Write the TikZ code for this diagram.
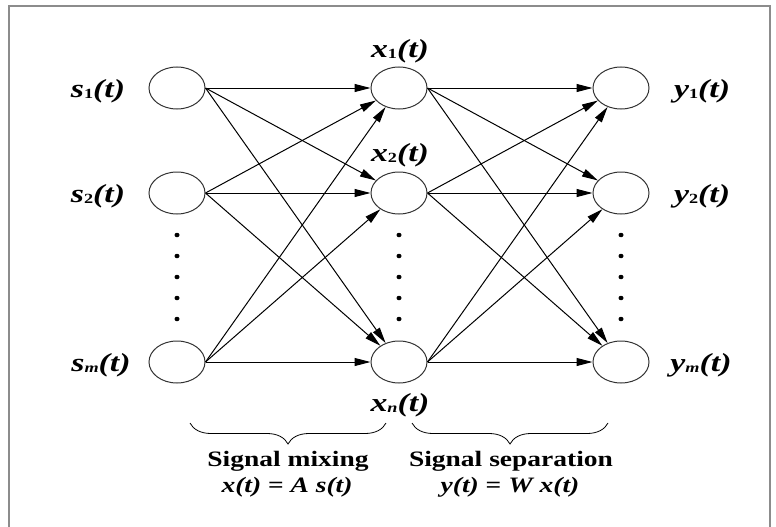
\documentclass[tikz,border=0pt]{standalone}
\usepackage{fontspec}
\setmainfont{Liberation Serif}
\usetikzlibrary{shapes.geometric,arrows.meta,decorations.pathreplacing}
\newcommand\nlbl[2]{\scalebox{1.3}[1]{\fontsize{26}{26}\selectfont\bfseries\itshape #1\raisebox{-0.1ex}{\fontsize{14}{14}\selectfont #2}(t)}}
\newcommand\btxt[1]{\scalebox{1.25}[1]{\fontsize{22}{24}\selectfont\bfseries #1}}
\begin{document}
\begin{tikzpicture}[x=1pt,y=-1pt,
  neuron/.style={draw=black!80, line width=1pt, ellipse, minimum width=56pt, minimum height=42pt, inner sep=0pt},
  conn/.style={line width=1pt, -{Triangle[length=16pt,width=8pt]}},
  dotm/.style={fill, ellipse, minimum width=5pt, minimum height=4.5pt, inner sep=0pt},
  brc/.style={decorate, decoration={brace, mirror, amplitude=21pt}, line width=0.8pt},
  lab/.style={inner sep=0pt}]
\useasboundingbox (0,0) rectangle (776,527);
\draw[black!45, line width=1.6pt] (9,530) -- (9,6) -- (770,6) -- (770,530);
% neurons
\node[neuron] (s1) at (177,88) {};
\node[neuron] (s2) at (177,193) {};
\node[neuron] (sm) at (177,362) {};
\node[neuron] (x1) at (399,88) {};
\node[neuron] (x2) at (399,193) {};
\node[neuron] (xn) at (399,362) {};
\node[neuron] (y1) at (621,88) {};
\node[neuron] (y2) at (621,193) {};
\node[neuron] (ym) at (621,362) {};
% dots
\foreach \c/\xx in {a/177,b/399,c/621}
  \foreach \k/\yy in {1/235,2/256,3/277,4/298,5/319}
    \node[dotm] (d\c\k) at (\xx,\yy) {};
% connections
\foreach \a in {s1,s2,sm}
  \foreach \b in {x1,x2,xn}
    \draw[conn] (\a.east) -- (\b);
\foreach \a in {x1,x2,xn}
  \foreach \b in {y1,y2,ym}
    \draw[conn] (\a.east) -- (\b);
% labels
\node[lab] (ls1) at (98,91) {\nlbl{s}{\upshape 1}};
\node[lab] (ls2) at (98,196) {\nlbl{s}{\upshape 2}};
\node[lab] (lsm) at (101,365) {\nlbl{s}{m}};
\node[lab] (lx1) at (400,51) {\nlbl{x}{\upshape 1}};
\node[lab] (lx2) at (400,155) {\nlbl{x}{\upshape 2}};
\node[lab] (lxn) at (400,405) {\nlbl{x}{n}};
\node[lab] (ly1) at (702,91) {\nlbl{y}{\upshape 1}};
\node[lab] (ly2) at (702,196) {\nlbl{y}{\upshape 2}};
\node[lab] (lym) at (701,365) {\nlbl{y}{m}};
% braces
\coordinate (b1a) at (190,423);
\coordinate (b1b) at (386,423);
\coordinate (b2a) at (412,423);
\coordinate (b2b) at (608,423);
\draw[brc] (b1a) -- (b1b);
\draw[brc] (b2a) -- (b2b);
% bottom texts
\node[lab] (t1) at (288,461) {\btxt{Signal mixing}};
\node[lab] (t2) at (511,461) {\btxt{Signal separation}};
\node[lab] (f1) at (287,487) {\btxt{\itshape x(t) {\upshape =} A s(t)}};
\node[lab] (f2) at (510,487) {\btxt{\itshape y(t) {\upshape =} W x(t)}};
\end{tikzpicture}
\end{document}
